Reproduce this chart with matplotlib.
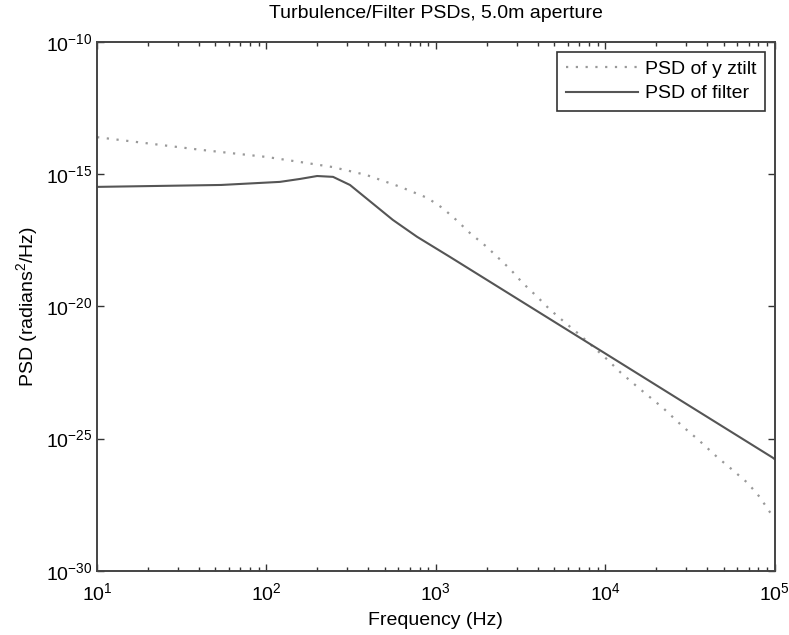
import numpy as np
import matplotlib
matplotlib.use("Agg")
import matplotlib.pyplot as plt
from matplotlib.ticker import LogLocator, NullLocator, FixedLocator

plt.rcParams['font.family'] = ['Liberation Sans', 'DejaVu Sans']
plt.rcParams['mathtext.fontset'] = 'custom'
plt.rcParams['mathtext.rm'] = 'Liberation Sans'
plt.rcParams['mathtext.it'] = 'Liberation Sans:italic'
plt.rcParams['mathtext.default'] = 'regular'

# PSD of y ztilt (dotted)
f_tilt = [10, 41, 100, 158, 245, 389, 617, 891, 1096, 1318, 1585, 1995,
          2754, 3236, 3981, 4677, 5754, 7079, 10230, 12300, 15850, 21880,
          28840, 35480, 45710, 56230, 69180, 81280, 93330, 100000]
psd_tilt = [2.5e-14, 8.3e-15, 4.47e-15, 2.88e-15, 1.86e-15, 9.3e-16, 3.3e-16,
            1.26e-16, 5.2e-17, 1.86e-17, 6.0e-18, 1.78e-18, 2.5e-19, 7.9e-20,
            2.24e-20, 7.9e-21, 2.5e-21, 8.3e-22, 1.0e-22, 3.16e-23, 7.9e-24,
            1.45e-24, 2.75e-25, 8.9e-26, 2.0e-26, 6.6e-27, 2.1e-27, 6.3e-28,
            1.7e-28, 1.0e-28]

# PSD of filter (solid)
f_filt = [10, 54, 120, 158, 199, 247, 311, 557, 773, 1211, 4519,
          11070, 27540, 97300, 100000]
psd_filt = [3.3e-16, 3.9e-16, 5.1e-16, 6.6e-16, 8.5e-16, 7.9e-16, 3.9e-16,
            1.86e-17, 4.3e-18, 7.4e-19, 3.9e-21, 1.1e-22,
            2.9e-24, 1.9e-26, 1.66e-26]

fig = plt.figure(figsize=(7.89, 6.35), dpi=100)
ax = fig.add_axes([0.123, 0.101, 0.859, 0.833])

ax.loglog(f_tilt, psd_tilt, color='#999999', lw=1.6,
          linestyle=(0, (1.0, 3.4)), label='PSD of y ztilt')
ax.loglog(f_filt, psd_filt, color='#555555', lw=1.5, label='PSD of filter')

ax.set_xlim(10, 1e5)
ax.set_ylim(1e-30, 1e-10)

ax.xaxis.set_major_locator(LogLocator(base=10))
ax.xaxis.set_minor_locator(LogLocator(base=10, subs=np.arange(2, 10)))
ax.xaxis.set_major_formatter(plt.FuncFormatter(lambda v, p: r'$10^{%d}$' % round(np.log10(v))))
ax.yaxis.set_major_locator(FixedLocator([1e-30, 1e-25, 1e-20, 1e-15, 1e-10]))
ax.yaxis.set_minor_locator(NullLocator())
ax.yaxis.set_major_formatter(plt.FuncFormatter(lambda v, p: r'$10^{%d}$' % round(np.log10(v))))

ax.tick_params(which='both', direction='in', top=True, right=True,
               labelsize=14, colors='#333333', labelcolor='black')
ax.tick_params(which='major', length=5, width=1)
ax.tick_params(which='minor', length=3, width=1)
ax.tick_params(axis='x', pad=8)
for s in ax.spines.values():
    s.set_color('#444444')
    s.set_linewidth(1.4)

ax.set_title('Turbulence/Filter PSDs, 5.0m aperture', fontsize=14, pad=17)
ax.set_xlabel('Frequency (Hz)', fontsize=14, labelpad=6)
ax.set_ylabel('PSD (radians$^2$/Hz)', fontsize=14, labelpad=4)

leg = ax.legend(loc='upper right', fontsize=14, fancybox=False,
                edgecolor='#333333', framealpha=1, handlelength=3.7,
                borderaxespad=0.5, borderpad=0.45, labelspacing=0.35,
                handletextpad=0.35)
leg.get_frame().set_linewidth(1.2)

fig.savefig('out.png', dpi=100)
